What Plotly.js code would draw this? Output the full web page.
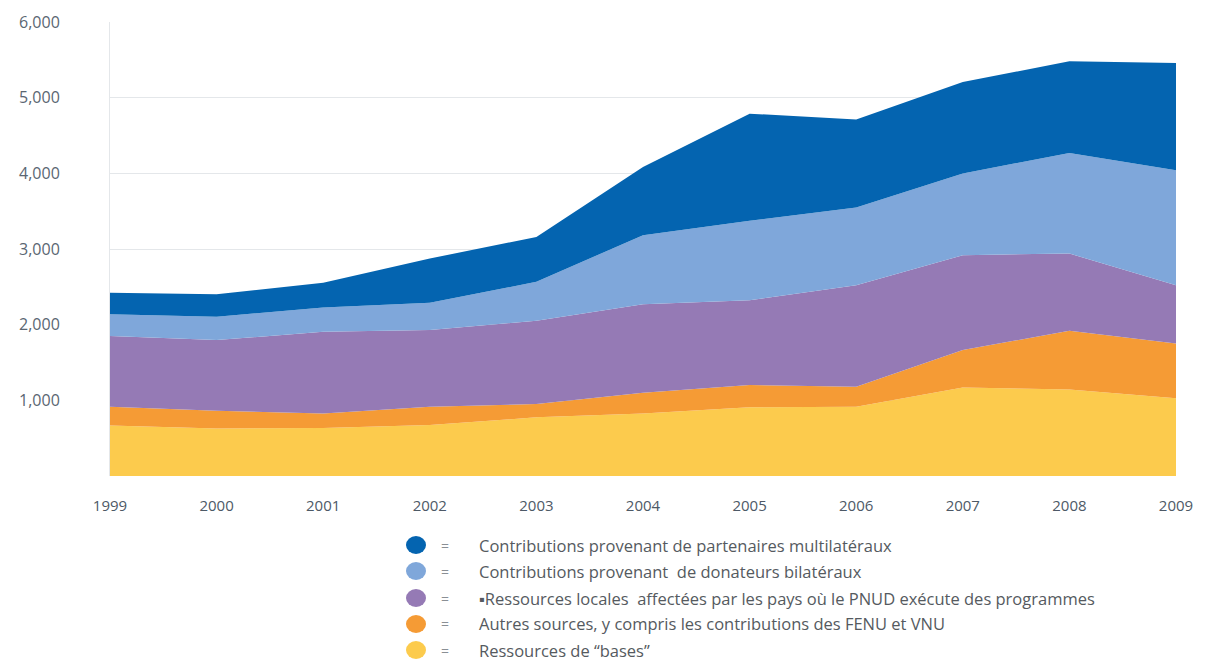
<!DOCTYPE html>
<html>
<head>
<meta charset="utf-8">
<script src="https://cdn.plot.ly/plotly-3.0.1.min.js"></script>
<style>html,body{margin:0;padding:0;background:#fff;}#chart{width:1208px;height:663px;}</style>
</head>
<body>
<div id="chart"></div>
<script>
const years = [1999, 2000, 2001, 2002, 2003, 2004, 2005, 2006, 2007, 2008, 2009];
const yTicks = [1000, 2000, 3000, 4000, 5000, 6000];
const yTickText = ["1,000", "2,000", "3,000", "4,000", "5,000", "6,000"];

const seriesNames = [
  "Ressources de \u201cbases\u201d",
  "Autres sources, y compris les contributions des FENU et VNU",
  "\u25aaRessources locales  affect\u00e9es par les pays o\u00f9 le PNUD ex\u00e9cute des programmes",
  "Contributions provenant  de donateurs bilat\u00e9raux",
  "Contributions provenant de partenaires multilat\u00e9raux"
];
const ressourcesBases   = [669, 629, 634, 673, 775, 827, 907, 916, 1171, 1144, 1026];
const autresSources     = [247, 234, 193, 243, 176, 273, 295, 264, 493, 775, 726];
const ressourcesLocales = [933, 933, 1079, 1012, 1100, 1171, 1122, 1342, 1254, 1021, 770];
const donateursBilat    = [290, 308, 321, 361, 515, 912, 1048, 1026, 1079, 1330, 1519];
const partenairesMulti  = [282, 299, 326, 585, 594, 902, 1417, 1162, 1210, 1210, 1417];

const seriesValues = [ressourcesBases, autresSources, ressourcesLocales, donateursBilat, partenairesMulti];
const colors = ["#FCCB4D", "#F59B35", "#957AB5", "#7FA7DA", "#0464B0"];

const traces = seriesValues.map((vals, i) => ({
  type: "scatter",
  mode: "lines",
  x: years,
  y: vals,
  name: seriesNames[i],
  stackgroup: "one",
  line: {width: 0, color: colors[i]},
  fillcolor: colors[i],
  hoverinfo: "x+y+name",
  showlegend: false
}));

// legend drawn as circles + "=" + text, top row is multilateral
const legendOrder = [4, 3, 2, 1, 0];
const rowY = [545, 571, 598, 624, 650];
const H = 663, W = 1208;
const plotW = W - 110 - 32, plotH = H - 22 - 187;
const shapes = [];
const annotations = [];
legendOrder.forEach((si, r) => {
  const yp = (H - 187 - rowY[r]) / plotH;
  shapes.push({
    type: "circle", xref: "paper", yref: "paper",
    xsizemode: "pixel", ysizemode: "pixel",
    xanchor: (416 - 110) / plotW, yanchor: yp,
    x0: -10, x1: 10, y0: -9, y1: 9,
    fillcolor: colors[si], line: {width: 0}
  });
  annotations.push({
    xref: "paper", yref: "paper",
    x: (445 - 110) / plotW, y: yp,
    xanchor: "center", yanchor: "middle", showarrow: false,
    text: "=", font: {family: "Open Sans", size: 14, color: "#8a8f95"}
  });
  annotations.push({
    xref: "paper", yref: "paper",
    x: (477 - 110) / plotW, y: yp,
    xanchor: "left", yanchor: "middle", showarrow: false,
    text: seriesNames[si], font: {family: "Open Sans", size: 16.5, color: "#555a60"}
  });
});

const layout = {
  width: 1208, height: 663,
  margin: {l: 110, r: 32, t: 22, b: 187},
  paper_bgcolor: "#ffffff", plot_bgcolor: "#ffffff",
  showlegend: false,
  xaxis: {
    range: [1999, 2009], tickvals: years, ticktext: years.map(String),
    showgrid: false, zeroline: false, showline: false, ticks: "",
    ticklabelstandoff: 19,
    tickfont: {family: "Open Sans", size: 15, color: "#4d5966"}
  },
  yaxis: {
    range: [0, 6000], tickvals: yTicks, ticktext: yTickText,
    showgrid: true, gridcolor: "#e4e7ea", gridwidth: 1, zeroline: false,
    showline: true, linecolor: "#e4e7ea", linewidth: 1, ticks: "",
    ticklabelstandoff: 46,
    tickfont: {family: "Open Sans", size: 16, color: "#5a6672"}
  },
  shapes: shapes,
  annotations: annotations
};

Plotly.newPlot("chart", traces, layout, {displayModeBar: false, staticPlot: true});
</script>
</body>
</html>
